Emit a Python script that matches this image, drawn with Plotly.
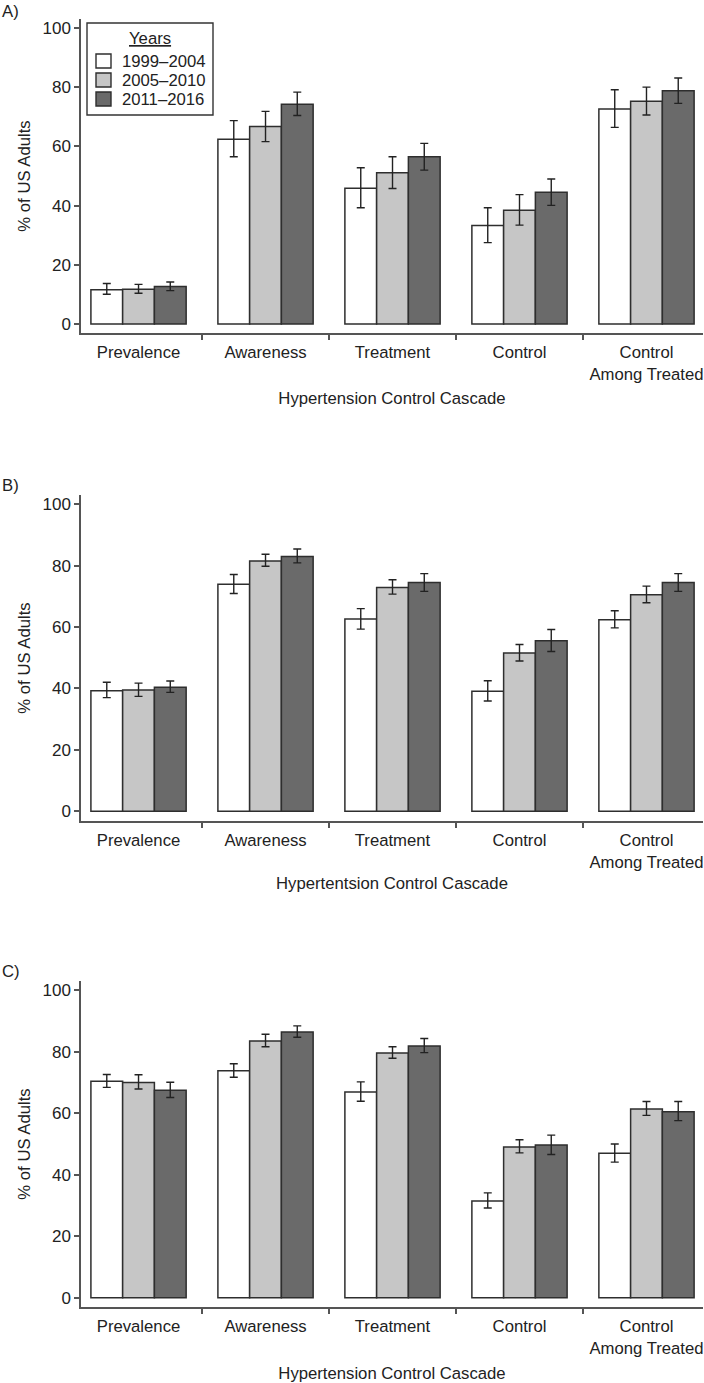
import plotly.graph_objects as go

categories = ["Prevalence", "Awareness", "Treatment", "Control", "Control<br>Among Treated"]
years = ["1999–2004", "2005–2010", "2011–2016"]
bar_colors = ["#ffffff", "#c6c6c6", "#6a6a6a"]
y_ticks = [0, 20, 40, 60, 80, 100]

# Panel A
a_1999 = [11.6, 62.4, 45.9, 33.3, 72.6]
a_1999_lo = [10.1, 56.5, 39.3, 27.5, 66.4]
a_1999_hi = [13.7, 68.7, 52.8, 39.3, 79.1]
a_2005 = [11.8, 66.7, 51.1, 38.4, 75.2]
a_2005_lo = [10.4, 61.6, 45.8, 33.4, 70.6]
a_2005_hi = [13.4, 71.8, 56.5, 43.7, 80.0]
a_2011 = [12.7, 74.2, 56.5, 44.5, 78.8]
a_2011_lo = [11.3, 70.4, 52.0, 40.1, 74.5]
a_2011_hi = [14.2, 78.3, 61.0, 49.0, 83.1]

# Panel B
b_1999 = [39.2, 73.9, 62.6, 39.1, 62.4]
b_1999_lo = [37.0, 70.9, 59.3, 35.9, 59.7]
b_1999_hi = [42.0, 77.1, 66.0, 42.5, 65.3]
b_2005 = [39.5, 81.5, 72.9, 51.5, 70.5]
b_2005_lo = [37.4, 79.8, 70.7, 48.9, 67.9]
b_2005_hi = [41.7, 83.7, 75.4, 54.3, 73.3]
b_2011 = [40.4, 83.0, 74.5, 55.5, 74.5]
b_2011_lo = [38.7, 80.9, 71.6, 52.0, 71.6]
b_2011_hi = [42.4, 85.4, 77.4, 59.2, 77.4]

# Panel C
c_1999 = [70.4, 73.8, 66.9, 31.5, 47.0]
c_1999_lo = [68.4, 71.7, 63.9, 29.2, 44.1]
c_1999_hi = [72.6, 76.1, 70.2, 34.1, 50.0]
c_2005 = [70.0, 83.5, 79.6, 49.0, 61.4]
c_2005_lo = [67.9, 81.6, 77.9, 47.1, 59.3]
c_2005_hi = [72.5, 85.7, 81.6, 51.4, 63.8]
c_2011 = [67.5, 86.4, 81.9, 49.7, 60.5]
c_2011_lo = [65.1, 84.7, 79.7, 46.6, 57.6]
c_2011_hi = [70.1, 88.4, 84.3, 52.9, 63.8]

panel_labels = ["A)", "B)", "C)"]
x_titles = ["Hypertension Control Cascade", "Hypertentsion Control Cascade", "Hypertension Control Cascade"]
y_title = "% of US Adults"
legend_title = "Years"

panels = [
    [(a_1999, a_1999_lo, a_1999_hi), (a_2005, a_2005_lo, a_2005_hi), (a_2011, a_2011_lo, a_2011_hi)],
    [(b_1999, b_1999_lo, b_1999_hi), (b_2005, b_2005_lo, b_2005_hi), (b_2011, b_2011_lo, b_2011_hi)],
    [(c_1999, c_1999_lo, c_1999_hi), (c_2005, c_2005_lo, c_2005_hi), (c_2011, c_2011_lo, c_2011_hi)],
]

W, H = 704, 1383
FONT = "Arial, Liberation Sans, Helvetica, sans-serif"
FS = 16.7
TXT = "#222222"
AX = "#555555"
EDGE = "#2e2e2e"

fig = go.Figure()

for p, series in enumerate(panels):
    xa = "x" if p == 0 else f"x{p+1}"
    ya = "y" if p == 0 else f"y{p+1}"
    for i, (vals, lo, hi) in enumerate(series):
        fig.add_trace(go.Bar(
            x=categories, y=vals, name=years[i],
            xaxis=xa, yaxis=ya,
            legendgroup=years[i], showlegend=False,
            marker=dict(color=bar_colors[i], line=dict(color=EDGE, width=1.5)),
            error_y=dict(type="data", symmetric=False,
                         array=[h - v for h, v in zip(hi, vals)],
                         arrayminus=[v - l for v, l in zip(vals, lo)],
                         color="#222222", thickness=1.4, width=4),
        ))

# plot areas in pixels (top, bottom)
areas = [(19, 333), (495, 821), (981, 1307)]
yranges = [[-3.0, 103.0], [-3.2, 103.0], [-3.0, 103.0]]
label_y = [12, 485, 972]
title_standoff = [10, 7, 12]


def px(x):
    return x / W


def py(y):
    return 1 - y / H


shapes = []
annotations = []

# legend box (panel A), drawn in paper coordinates
lg_left, lg_top, lg_right, lg_bottom = 87, 23, 213, 115
shapes.append(dict(type="rect", xref="paper", yref="paper",
                   x0=px(lg_left), x1=px(lg_right), y0=py(lg_bottom), y1=py(lg_top),
                   line=dict(color="#333333", width=1.4), fillcolor="white", layer="above"))
annotations.append(dict(text="<u>" + legend_title + "</u>", x=px((lg_left + lg_right) / 2), y=py(38),
                        xref="paper", yref="paper", xanchor="center", yanchor="middle",
                        showarrow=False, font=dict(size=FS, color=TXT)))
row_y = [61, 80, 99]
for i, name in enumerate(years):
    cy = row_y[i]
    shapes.append(dict(type="rect", xref="paper", yref="paper",
                       x0=px(96), x1=px(111), y0=py(cy + 7), y1=py(cy - 7),
                       line=dict(color=EDGE, width=1.4), fillcolor=bar_colors[i], layer="above"))
    annotations.append(dict(text=name, x=px(120), y=py(cy), xref="paper", yref="paper",
                            xanchor="left", yanchor="middle", showarrow=False,
                            font=dict(size=FS, color=TXT)))

layout = dict(
    width=W, height=H,
    margin=dict(l=0, r=0, t=0, b=0),
    paper_bgcolor="white", plot_bgcolor="white",
    barmode="group", bargap=0.25, bargroupgap=0,
    font=dict(family=FONT, size=FS, color=TXT),
    showlegend=False,
    shapes=shapes,
    annotations=annotations,
)

x0, x1 = 81 / W, 703 / W
for p in range(3):
    top, bot = areas[p]
    sx = "" if p == 0 else str(p + 1)
    layout["xaxis" + sx] = dict(
        domain=[x0, x1], anchor="y" + sx, automargin=False,
        type="category", range=[-0.453, 4.445],
        showline=True, linecolor=AX, linewidth=1.5,
        ticks="outside", tickson="boundaries", ticklen=5, tickcolor=AX, tickwidth=1.5,
        ticklabelstandoff=3,
        showgrid=False, zeroline=False,
        tickfont=dict(size=FS, color=TXT),
        title=dict(text=x_titles[p], font=dict(size=FS, color=TXT), standoff=title_standoff[p]),
        fixedrange=True,
    )
    layout["yaxis" + sx] = dict(
        domain=[1 - bot / H, 1 - top / H], anchor="x" + sx, automargin=False,
        range=yranges[p], tickvals=y_ticks,
        showline=True, linecolor=AX, linewidth=1.5,
        ticks="outside", ticklen=5, tickcolor=AX, tickwidth=1.5,
        showgrid=False, zeroline=False,
        tickfont=dict(size=17, color=TXT),
        title=dict(text=y_title, font=dict(size=FS, color=TXT), standoff=8),
        fixedrange=True,
    )
    layout["annotations"].append(dict(
        text=panel_labels[p], x=0, y=py(label_y[p]), xref="paper", yref="paper",
        xanchor="left", yanchor="middle", showarrow=False,
        font=dict(size=FS, color=TXT),
    ))

fig.update_layout(**layout)
fig.write_html("out.html", config={"displayModeBar": False},
               post_script="document.body.style.margin='0';document.body.style.padding='0';")
